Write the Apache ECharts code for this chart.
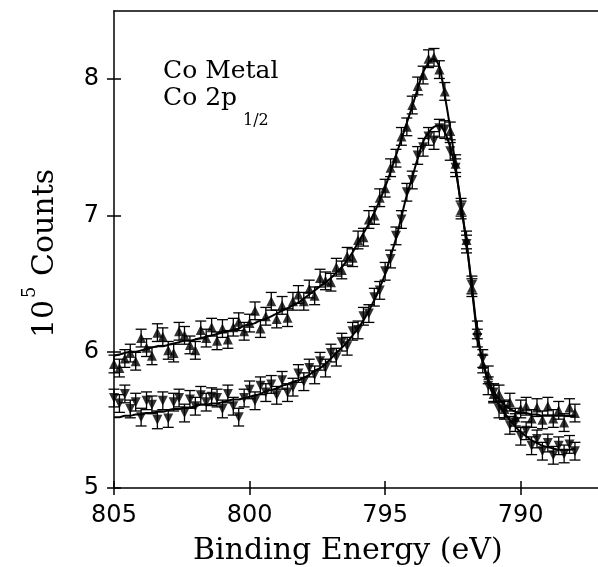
<!DOCTYPE html>
<html>
<head>
<meta charset="utf-8">
<script src="https://cdn.jsdelivr.net/npm/echarts@6/dist/echarts.min.js"></script>
<style>
html, body { margin: 0; padding: 0; background: #fff; }
#main { width: 598px; height: 567px; }
</style>
</head>
<body>
<div id="main"></div>
<script>
// binding energy (eV) of each measured point
var energy = [805.0, 804.8, 804.6, 804.4, 804.2, 804.0, 803.8, 803.6, 803.4, 803.2,
	803.0, 802.8, 802.6, 802.4, 802.2, 802.0, 801.8, 801.6, 801.4, 801.2,
	801.0, 800.8, 800.6, 800.4, 800.2, 800.0, 799.8, 799.6, 799.4, 799.2,
	799.0, 798.8, 798.6, 798.4, 798.2, 798.0, 797.8, 797.6, 797.4, 797.2,
	797.0, 796.8, 796.6, 796.4, 796.2, 796.0, 795.8, 795.6, 795.4, 795.2,
	795.0, 794.8, 794.6, 794.4, 794.2, 794.0, 793.8, 793.6, 793.4, 793.2,
	793.0, 792.8, 792.6, 792.4, 792.2, 792.0, 791.8, 791.6, 791.4, 791.2,
	791.0, 790.8, 790.6, 790.4, 790.2, 790.0, 789.8, 789.6, 789.4, 789.2,
	789.0, 788.8, 788.6, 788.4, 788.2, 788.0];

// counts (10^5), up triangles
var countsUp = [5.91, 5.88, 5.95, 5.99, 5.93, 6.10, 6.03, 5.97, 6.14, 6.11,
	6.01, 5.99, 6.15, 6.12, 6.05, 6.01, 6.16, 6.10, 6.18, 6.08,
	6.17, 6.09, 6.18, 6.22, 6.15, 6.21, 6.30, 6.17, 6.26, 6.37,
	6.24, 6.34, 6.25, 6.37, 6.42, 6.37, 6.46, 6.41, 6.54, 6.52,
	6.51, 6.62, 6.60, 6.70, 6.69, 6.82, 6.84, 6.97, 7.00, 7.13,
	7.20, 7.35, 7.42, 7.58, 7.65, 7.81, 7.95, 8.03, 8.15, 8.16,
	8.07, 7.91, 7.62, 7.38, 7.04, 6.82, 6.47, 6.16, 5.91, 5.83,
	5.69, 5.69, 5.58, 5.63, 5.52, 5.58, 5.60, 5.51, 5.59, 5.50,
	5.60, 5.51, 5.57, 5.48, 5.59, 5.55];

// counts (10^5), down triangles
var countsDown = [5.66, 5.62, 5.69, 5.58, 5.63, 5.52, 5.64, 5.61, 5.50, 5.64,
	5.51, 5.63, 5.66, 5.55, 5.65, 5.60, 5.68, 5.63, 5.67, 5.66,
	5.58, 5.69, 5.60, 5.52, 5.66, 5.72, 5.64, 5.75, 5.70, 5.76,
	5.68, 5.79, 5.70, 5.74, 5.84, 5.78, 5.88, 5.83, 5.93, 5.88,
	5.99, 5.96, 6.07, 6.04, 6.15, 6.16, 6.26, 6.28, 6.40, 6.45,
	6.59, 6.68, 6.85, 6.97, 7.17, 7.26, 7.44, 7.50, 7.58, 7.55,
	7.64, 7.63, 7.47, 7.35, 7.06, 6.79, 6.49, 6.10, 5.95, 5.75,
	5.70, 5.58, 5.57, 5.46, 5.48, 5.38, 5.42, 5.31, 5.36, 5.27,
	5.33, 5.24, 5.31, 5.25, 5.32, 5.27];

// fitted curves on the same energies
var fitUp = [5.97, 5.98, 5.99, 6.00, 6.00, 6.01, 6.02, 6.03, 6.04, 6.04,
	6.05, 6.06, 6.07, 6.08, 6.08, 6.09, 6.10, 6.11, 6.12, 6.13,
	6.14, 6.15, 6.16, 6.17, 6.19, 6.20, 6.21, 6.23, 6.24, 6.26,
	6.28, 6.30, 6.32, 6.34, 6.36, 6.39, 6.42, 6.45, 6.48, 6.51,
	6.54, 6.58, 6.62, 6.67, 6.73, 6.80, 6.87, 6.94, 7.02, 7.11,
	7.21, 7.32, 7.44, 7.56, 7.68, 7.80, 7.93, 8.05, 8.12, 8.15,
	8.09, 7.88, 7.64, 7.36, 7.07, 6.80, 6.48, 6.14, 5.93, 5.80,
	5.71, 5.65, 5.61, 5.58, 5.56, 5.55, 5.55, 5.54, 5.54, 5.53,
	5.53, 5.53, 5.53, 5.53, 5.53, 5.53];

var fitDown = [5.52, 5.52, 5.53, 5.53, 5.54, 5.54, 5.55, 5.55, 5.56, 5.56,
	5.57, 5.58, 5.58, 5.59, 5.59, 5.60, 5.61, 5.61, 5.62, 5.62,
	5.63, 5.64, 5.65, 5.65, 5.66, 5.67, 5.68, 5.69, 5.71, 5.72,
	5.73, 5.75, 5.76, 5.78, 5.79, 5.81, 5.83, 5.86, 5.88, 5.91,
	5.95, 5.99, 6.03, 6.07, 6.12, 6.17, 6.23, 6.30, 6.38, 6.47,
	6.57, 6.70, 6.83, 6.99, 7.15, 7.28, 7.42, 7.54, 7.61, 7.65,
	7.66, 7.61, 7.50, 7.33, 7.08, 6.80, 6.46, 6.12, 5.92, 5.78,
	5.68, 5.61, 5.55, 5.50, 5.45, 5.41, 5.38, 5.35, 5.33, 5.31,
	5.30, 5.29, 5.28, 5.28, 5.28, 5.29];

var errHalf = 0.065;   // error bar half height (10^5 counts)
var xTicks = [805, 800, 795, 790];
var yTicks = [5, 6, 7, 8];

var sans = 'DejaVu Sans';

function pairs(ys) {
	return energy.map(function (e, i) { return [e, ys[i]]; });
}
function bars(ys) {
	return energy.map(function (e, i) { return [e, ys[i] - errHalf, ys[i] + errHalf]; });
}

// vertical error bar with caps
function renderErr(params, api) {
	var lo = api.coord([api.value(0), api.value(1)]);
	var hi = api.coord([api.value(0), api.value(2)]);
	var w = 5.5;
	var st = { stroke: '#000', lineWidth: 1.3 };
	return {
		type: 'group',
		children: [
			{ type: 'line', shape: { x1: hi[0], y1: hi[1], x2: lo[0], y2: lo[1] }, style: st },
			{ type: 'line', shape: { x1: hi[0] - w, y1: hi[1], x2: hi[0] + w, y2: hi[1] }, style: st },
			{ type: 'line', shape: { x1: lo[0] - w, y1: lo[1], x2: lo[0] + w, y2: lo[1] }, style: st }
		]
	};
}

var xBase = { type: 'value', min: 787.15, max: 805, inverse: true, splitLine: { show: false } };
var yBase = { type: 'value', min: 5, max: 8.5, splitLine: { show: false } };
var blk = { color: '#000', width: 1.5 };

var myChart = echarts.init(document.getElementById('main'));
var option = {
	animation: false,
	backgroundColor: '#fff',
	grid: { left: 114, right: 0, top: 11, bottom: 79 },
	xAxis: [
		Object.assign({}, xBase, {
			position: 'bottom',
			axisLine: { lineStyle: blk },
			axisTick: { customValues: xTicks, length: 7, lineStyle: blk },
			axisLabel: { customValues: xTicks, color: '#000', fontFamily: sans, fontSize: 24, margin: 16 }
		}),
		Object.assign({}, xBase, {
			position: 'bottom',
			axisLine: { show: false },
			axisTick: { customValues: xTicks, inside: true, length: 7, lineStyle: blk },
			axisLabel: { show: false }
		}),
		Object.assign({}, xBase, {
			position: 'top',
			axisLine: { lineStyle: blk },
			axisTick: { show: false },
			axisLabel: { show: false }
		})
	],
	yAxis: [
		Object.assign({}, yBase, {
			position: 'left',
			axisLine: { lineStyle: blk },
			axisTick: { customValues: yTicks, length: 7, lineStyle: blk },
			axisLabel: { customValues: yTicks, color: '#000', fontFamily: sans, fontSize: 24, margin: 15 }
		}),
		Object.assign({}, yBase, {
			position: 'left',
			axisLine: { show: false },
			axisTick: { customValues: yTicks, inside: true, length: 7, lineStyle: blk },
			axisLabel: { show: false }
		})
	],
	graphic: [
		{ type: 'text', left: 163, top: 59, style: { text: 'Co Metal', font: '25px "DejaVu Serif"', fill: '#000' } },
		{ type: 'text', left: 163, top: 86, style: { text: 'Co 2p', font: '25px "DejaVu Serif"', fill: '#000' } },
		{ type: 'text', left: 243, top: 113, style: { text: '1/2', font: '16px "DejaVu Serif"', fill: '#000' } },
		{ type: 'text', left: 193, top: 536, style: { text: 'Binding Energy (eV)', font: '30px "DejaVu Serif"', fill: '#000' } },
		{
			type: 'group', x: 45, y: 338, rotation: Math.PI / 2,
			children: [
				{ type: 'text', x: 0, y: 0, style: { text: '10', font: '30px "DejaVu Serif"', fill: '#000', verticalAlign: 'middle', align: 'left' } },
				{ type: 'text', x: 40, y: -15, style: { text: '5', font: '18px "DejaVu Serif"', fill: '#000', verticalAlign: 'middle', align: 'left' } },
				{ type: 'text', x: 62, y: 0, style: { text: 'Counts', font: '30px "DejaVu Serif"', fill: '#000', verticalAlign: 'middle', align: 'left' } }
			]
		}
	],
	series: [
		{ type: 'custom', name: 'errUp', renderItem: renderErr, data: bars(countsUp), encode: { x: 0, y: [1, 2] }, z: 2 },
		{ type: 'custom', name: 'errDown', renderItem: renderErr, data: bars(countsDown), encode: { x: 0, y: [1, 2] }, z: 2 },
		{ type: 'scatter', name: 'up', data: pairs(countsUp), symbol: 'triangle', symbolSize: 10,
			itemStyle: { color: '#000' }, z: 3 },
		{ type: 'scatter', name: 'down', data: pairs(countsDown), symbol: 'triangle', symbolRotate: 180, symbolSize: 10,
			itemStyle: { color: '#000' }, z: 3 },
		{ type: 'line', name: 'fitUp', data: pairs(fitUp), smooth: 0.3, showSymbol: false, symbol: 'none',
			lineStyle: { color: '#000', width: 2 }, z: 4 },
		{ type: 'line', name: 'fitDown', data: pairs(fitDown), smooth: 0.3, showSymbol: false, symbol: 'none',
			lineStyle: { color: '#000', width: 2 }, z: 4 }
	]
};
myChart.setOption(option);
</script>
</body>
</html>
